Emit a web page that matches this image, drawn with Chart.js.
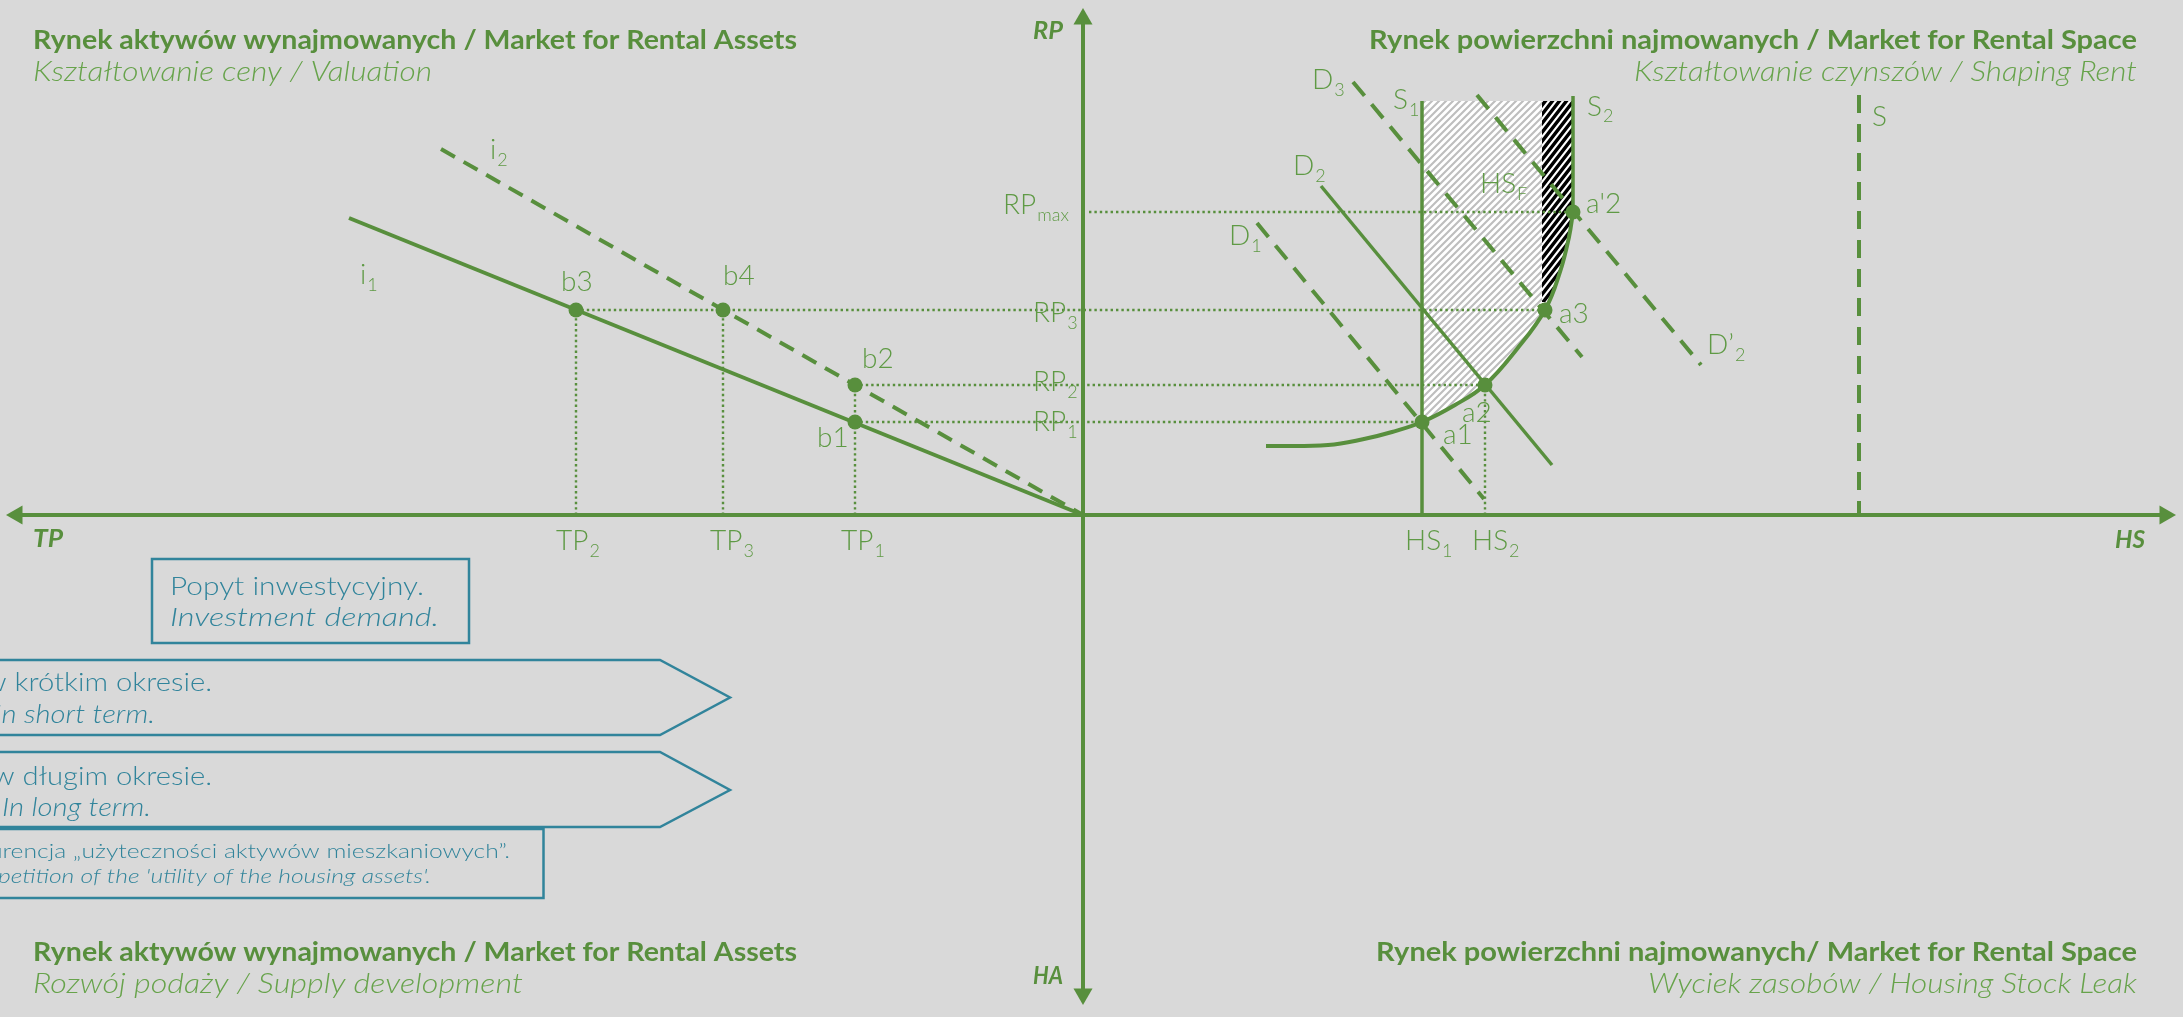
<!DOCTYPE html>
<html>
<head>
<meta charset="utf-8">
<script src="https://cdn.jsdelivr.net/npm/chart.js@4.4.1/dist/chart.umd.min.js"></script>
<style>
  html, body { margin: 0; padding: 0; background: #d9d9d9; }
  #wrap { width: 2183px; height: 1017px; }
  canvas { display: block; }
</style>
</head>
<body>
<div id="wrap"><canvas id="marketChart" width="2183" height="1017"></canvas></div>
<script>
// Diagram units: origin where the axes cross, TP to the left (negative), HA downwards (negative)

// valuation quadrant (TP / RP)
const lineI1 = [{x: -73.4, y: 29.7}, {x: 0, y: 0}];
const lineI2 = [{x: -64.2, y: 36.6}, {x: 0, y: 0}];
const pointsB = [{x: -22.8, y: 9.3}, {x: -22.8, y: 13.0}, {x: -50.7, y: 20.5}, {x: -36.0, y: 20.5}]; // b1 b2 b3 b4

// rent quadrant (HS / RP)
const pointsA = [{x: 33.9, y: 9.3}, {x: 40.2, y: 13.0}, {x: 46.2, y: 20.5}, {x: 49.0, y: 30.3}]; // a1 a2 a3 a'2
const supplyCurve = [
  {x: 18.3, y: 6.9}, {x: 24.5, y: 7.0}, {x: 28.1, y: 7.6}, {x: 30.9, y: 8.3},
  {x: 33.9, y: 9.3}, {x: 37.2, y: 11.0}, {x: 40.2, y: 13.0}, {x: 43.4, y: 16.6},
  {x: 46.2, y: 20.5}, {x: 47.7, y: 24.3}, {x: 48.6, y: 27.8}, {x: 49.0, y: 30.3}
];
const lineS1 = [{x: 33.9, y: 41.4}, {x: 33.9, y: 0}];
const lineS2 = [{x: 49.0, y: 41.9}, {x: 49.0, y: 30.3}];
const lineS = [{x: 77.6, y: 42.0}, {x: 77.6, y: 0}];
const lineD1 = [{x: 17.4, y: 29.2}, {x: 40.1, y: 1.6}];
const lineD2 = [{x: 23.8, y: 32.9}, {x: 46.9, y: 5.0}];
const lineD3 = [{x: 27.0, y: 43.3}, {x: 49.9, y: 15.8}];
const lineD2b = [{x: 39.4, y: 42.0}, {x: 61.8, y: 15.0}];
const rpMaxStart = {x: 0.6, y: 30.3};

// hatched areas (HS_F and the leak strip)
const hatchHS = [
  {x: 33.9, y: 9.3}, {x: 33.9, y: 41.4}, {x: 49.0, y: 41.4}, {x: 49.0, y: 30.3},
  {x: 48.6, y: 27.8}, {x: 47.7, y: 24.3}, {x: 46.2, y: 20.5}, {x: 43.4, y: 16.6},
  {x: 40.2, y: 13.0}, {x: 37.2, y: 11.0}, {x: 33.9, y: 9.3}
];
const hatchLeak = [
  {x: 45.9, y: 41.4}, {x: 49.0, y: 41.4}, {x: 49.0, y: 30.3}, {x: 48.6, y: 27.8},
  {x: 47.7, y: 24.3}, {x: 46.5, y: 21.3}, {x: 45.9, y: 21.3}, {x: 45.9, y: 41.4}
];

// axes
const axisX = [{x: -106.6, y: 0}, {x: 108.2, y: 0}];
const axisY = [{x: 0, y: -47.9}, {x: 0, y: 49.6}];
const axisArrows = [{x: -106.6, y: 0}, {x: 108.2, y: 0}, {x: 0, y: 49.6}, {x: 0, y: -47.9}];
const axisArrowTurn = [-90, 90, 0, 180];

// labels next to marks: [text, subscript, x, y]
const markLabels = [
  ['i', '2', -59.3, 36.5], ['i', '1', -72.3, 24.0],
  ['b3', '', -52.2, 23.3], ['b4', '', -36.0, 23.9], ['b2', '', -22.1, 15.6], ['b1', '', -26.6, 7.7],
  ['TP', '2', -52.7, -2.6], ['TP', '3', -37.3, -2.6], ['TP', '1', -24.2, -2.6],
  ['RP', 'max', -8.0, 31.0], ['RP', '3', -5.0, 20.2], ['RP', '2', -5.0, 13.3], ['RP', '1', -5.0, 9.3],
  ['D', '3', 22.9, 43.5], ['S', '1', 31.0, 41.5], ['S', '2', 50.4, 40.85], ['D', '2', 21.0, 34.9],
  ['HS', 'F', 39.7, 33.1], ["a'2", '', 50.3, 31.1], ['a3', '', 47.6, 20.1], ['a2', '', 37.9, 10.2],
  ['a1', '', 36.0, 8.0], ['D', '1', 14.6, 27.9], ['D\u2019', '2', 62.4, 17.0], ['S', '', 78.9, 39.8],
  ['HS', '1', 32.2, -2.6], ['HS', '2', 38.9, -2.6]
];

const GREEN = '#588f3d';
const LABEL = '#5f9a45';
const SUBTITLE = '#67a34b';
const TEAL = '#31849b';

function makeHatch(stroke, lw, w, h) {
    const c = document.createElement('canvas');
    c.width = w; c.height = h;
    const g = c.getContext('2d');
    g.fillStyle = '#ffffff';
    g.fillRect(0, 0, w, h);
    g.strokeStyle = stroke;
    g.lineWidth = lw;
    g.beginPath();
    for (const off of [-w, 0, w]) {
        g.moveTo(off - w, 2 * h);
        g.lineTo(off + 2 * w, -h);
    }
    g.stroke();
    return g.createPattern(c, 'repeat');
}

function lineSet(data, opts) {
    return Object.assign({
        data: data, showLine: true, borderColor: GREEN, borderWidth: 4,
        pointRadius: 0, tension: 0, fill: false, order: 5
    }, opts || {});
}

// dotted guides from b-points to a-points and down to the axes
const guides = [
    [pointsB[0], pointsA[0]], [pointsB[1], pointsA[1]], [pointsB[2], pointsA[2]], [rpMaxStart, pointsA[3]],
    [{x: pointsB[2].x, y: 0}, pointsB[2]], [{x: pointsB[3].x, y: 0}, pointsB[3]],
    [{x: pointsB[0].x, y: 0}, pointsB[1]], [{x: pointsA[1].x, y: 0}, pointsA[1]]
].map(d => lineSet(d, {borderWidth: 2.4, borderDash: [2.4, 3], order: 8}));

const datasets = [
    lineSet(hatchHS, {fill: 'shape', backgroundColor: makeHatch('#bebebe', 2.1, 7, 7), borderWidth: 0, order: 20}),
    lineSet(hatchLeak, {fill: 'shape', backgroundColor: makeHatch('#000000', 3.4, 7, 9), borderWidth: 0, order: 19}),
    ...guides,
    lineSet(axisX, {order: 3}),
    lineSet(axisY, {order: 3}),
    lineSet(lineI1, {borderWidth: 4}),
    lineSet(lineI2, {borderDash: [16, 10]}),
    lineSet(lineS1, {borderWidth: 3.5}),
    lineSet(lineS2, {borderWidth: 3.5}),
    lineSet(lineS, {borderDash: [18, 11]}),
    lineSet(lineD1, {borderDash: [18, 11]}),
    lineSet(lineD2, {borderWidth: 3.5}),
    lineSet(lineD3, {borderDash: [18, 11]}),
    lineSet(lineD2b, {borderDash: [18, 11]}),
    lineSet(supplyCurve, {tension: 0.4}),
    {data: pointsB.concat(pointsA), pointRadius: 7.5, pointBackgroundColor: GREEN, pointBorderWidth: 0, order: 1},
    {data: axisArrows, pointStyle: 'triangle', pointRotation: axisArrowTurn, pointRadius: 11,
     pointBackgroundColor: GREEN, pointBorderWidth: 0, order: 1}
];

function drawText(ctx, o) {
    ctx.save();
    ctx.font = (o.style || 'normal') + ' ' + (o.weight || 300) + ' ' + o.size + 'px Lato';
    ctx.fillStyle = o.color;
    ctx.textBaseline = 'middle';
    ctx.textAlign = 'left';
    const w = ctx.measureText(o.text).width;
    const sx = o.width ? o.width / w : (o.sx || 1);
    const left = o.align === 'right' ? o.x - w * sx : o.x;
    ctx.translate(left, o.y);
    ctx.scale(sx, 1);
    ctx.fillText(o.text, 0, 0);
    ctx.restore();
}

function polygon(ctx, pts) {
    ctx.beginPath();
    pts.forEach((p, i) => i ? ctx.lineTo(p[0], p[1]) : ctx.moveTo(p[0], p[1]));
    ctx.closePath();
    ctx.stroke();
}

const diagramText = {
    id: 'diagramText',
    afterDatasetsDraw(chart) {
        const {ctx, scales: {x, y}} = chart;

        // labels attached to marks
        markLabels.forEach(([t, sub, lx, ly]) => {
            const px = x.getPixelForValue(lx), py = y.getPixelForValue(ly);
            ctx.save();
            ctx.font = '300 28px Lato';
            ctx.fillStyle = LABEL;
            ctx.textBaseline = 'middle';
            ctx.fillText(t, px, py);
            const w = ctx.measureText(t).width;
            if (sub) {
                ctx.font = '300 18px Lato';
                ctx.fillText(sub, px + w + 1, py + 10);
            }
            ctx.restore();
        });

        // axis names
        const axisNames = [['TP', 33, 539], ['RP', 1033, 31], ['HS', 2115, 540], ['HA', 1033, 976]];
        axisNames.forEach(([t, px, py]) => drawText(ctx, {text: t, x: px, y: py, size: 25, weight: 700,
            style: 'italic', color: GREEN, width: 30}));

        // quadrant titles
        const bold = {size: 27, weight: 700, color: GREEN};
        const light = {size: 27, weight: 300, style: 'italic', color: SUBTITLE};
        drawText(ctx, Object.assign({text: 'Rynek aktywów wynajmowanych / Market for Rental Assets', x: 33, y: 40, width: 764}, bold));
        drawText(ctx, Object.assign({text: 'Kształtowanie ceny / Valuation', x: 33, y: 72, width: 399}, light));
        drawText(ctx, Object.assign({text: 'Rynek powierzchni najmowanych / Market for Rental Space', x: 2137, y: 40, width: 768, align: 'right'}, bold));
        drawText(ctx, Object.assign({text: 'Kształtowanie czynszów / Shaping Rent', x: 2137, y: 72, width: 503, align: 'right'}, light));
        drawText(ctx, Object.assign({text: 'Rynek aktywów wynajmowanych / Market for Rental Assets', x: 33, y: 952, width: 764}, bold));
        drawText(ctx, Object.assign({text: 'Rozwój podaży / Supply development', x: 33, y: 984, width: 490}, light));
        drawText(ctx, Object.assign({text: 'Rynek powierzchni najmowanych/ Market for Rental Space', x: 2137, y: 952, width: 761, align: 'right'}, bold));
        drawText(ctx, Object.assign({text: 'Wyciek zasobów / Housing Stock Leak', x: 2137, y: 984, width: 489, align: 'right'}, light));

        // blue notes
        ctx.save();
        ctx.strokeStyle = TEAL;
        ctx.lineWidth = 2.5;
        ctx.strokeRect(152, 559, 317, 84);
        polygon(ctx, [[-5, 660], [660, 660], [730, 697.5], [660, 735], [-5, 735]]);
        polygon(ctx, [[-5, 752], [660, 752], [730, 790], [660, 827], [-5, 827]]);
        ctx.strokeRect(-5, 829, 548.5, 69);
        ctx.restore();

        const note = {size: 25, weight: 300, color: TEAL, sx: 1.17};
        drawText(ctx, Object.assign({text: 'Popyt inwestycyjny.', x: 170, y: 587, width: 254}, note));
        drawText(ctx, Object.assign({text: 'Investment demand.', x: 170, y: 618, width: 269, style: 'italic'}, note));
        drawText(ctx, Object.assign({text: 'w krótkim okresie.', x: 212, y: 683, align: 'right'}, note));
        drawText(ctx, Object.assign({text: 'In short term.', x: 155, y: 715, align: 'right', style: 'italic', sx: 1.22}, note));
        drawText(ctx, Object.assign({text: 'w długim okresie.', x: 212, y: 777, align: 'right'}, note));
        drawText(ctx, Object.assign({text: 'In long term.', x: 151, y: 808, align: 'right', style: 'italic', sx: 1.22}, note));
        const small = {size: 19, weight: 300, color: TEAL, align: 'right', sx: 1.3};
        drawText(ctx, Object.assign({text: 'Konkurencja \u201eużyteczności aktywów mieszkaniowych\u201d.', x: 510, y: 852}, small));
        drawText(ctx, Object.assign({text: 'Competition of the \'utility of the housing assets\'.', x: 431, y: 877, style: 'italic'}, small));
    }
};

new Chart(document.getElementById('marketChart'), {
    type: 'scatter',
    data: {datasets: datasets},
    options: {
        responsive: false,
        animation: false,
        devicePixelRatio: 1,
        layout: {padding: 0, autoPadding: false},
        plugins: {legend: {display: false}, tooltip: {enabled: false}},
        scales: {
            x: {type: 'linear', min: -108.3, max: 110.0, display: false},
            y: {type: 'linear', min: -50.2, max: 51.5, display: false}
        }
    },
    plugins: [diagramText]
});
</script>
</body>
</html>
